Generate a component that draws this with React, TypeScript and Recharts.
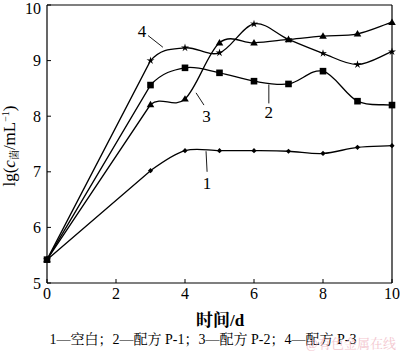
import React from 'react';
import { LineChart, Line, XAxis, YAxis, ReferenceLine, ReferenceDot } from 'recharts';

const days = [0, 3, 4, 5, 6, 7, 8, 9, 10];
const blank = [5.42, 7.02, 7.38, 7.38, 7.38, 7.37, 7.33, 7.44, 7.47];
const p1 = [5.42, 8.56, 8.87, 8.78, 8.63, 8.58, 8.81, 8.27, 8.2];
const p2 = [5.42, 8.21, 8.31, 9.32, 9.32, 9.38, 9.44, 9.48, 9.69];
const p3 = [5.42, 9.0, 9.23, 9.14, 9.66, 9.38, 9.13, 8.93, 9.16];
const xTicks = [0, 2, 4, 6, 8, 10];
const yTicks = [5, 6, 7, 8, 9, 10];
const caption = '1—空白；2—配方 P-1；3—配方 P-2；4—配方 P-3';

const data = days.map((d, i) => ({ d, s1: blank[i], s2: p1[i], s3: p2[i], s4: p3[i] }));

const FONT = '"Liberation Serif", "Noto Serif CJK SC", "Noto Sans CJK SC", serif';

// straight first segment, then a Catmull-Rom style spline through the rest
const splineCurve = (ctx: any) => {
  let pts: number[][] = [];
  return {
    areaStart() {},
    areaEnd() {},
    lineStart() {
      pts = [];
    },
    point(x: number, y: number) {
      pts.push([+x, +y]);
    },
    lineEnd() {
      const n = pts.length;
      if (!n) return;
      ctx.moveTo(pts[0][0], pts[0][1]);
      if (n === 1) return;
      ctx.lineTo(pts[1][0], pts[1][1]);
      if (n === 2) return;
      const tan = (i: number) => {
        if (i === 1) {
          const inc = [(pts[1][0] - pts[0][0]) / 3, (pts[1][1] - pts[0][1]) / 3];
          return [
            (pts[2][0] - pts[1][0] + inc[0]) / 2,
            (pts[2][1] - pts[1][1] + inc[1]) / 2,
          ];
        }
        if (i === n - 1) return [pts[i][0] - pts[i - 1][0], pts[i][1] - pts[i - 1][1]];
        return [(pts[i + 1][0] - pts[i - 1][0]) / 2, (pts[i + 1][1] - pts[i - 1][1]) / 2];
      };
      for (let i = 1; i < n - 1; i++) {
        const a = pts[i];
        const b = pts[i + 1];
        const ma = tan(i);
        const mb = tan(i + 1);
        ctx.bezierCurveTo(a[0] + ma[0] / 3, a[1] + ma[1] / 3, b[0] - mb[0] / 3, b[1] - mb[1] / 3, b[0], b[1]);
      }
    },
  };
};

const Diamond = (props: any) => {
  const { cx, cy } = props;
  if (cx == null || cy == null) return null;
  const r = 2.6;
  return <path d={`M${cx},${cy - r}L${cx + r},${cy}L${cx},${cy + r}L${cx - r},${cy}Z`} fill="#000" />;
};
const Square = (props: any) => {
  const { cx, cy } = props;
  if (cx == null || cy == null) return null;
  return <rect x={cx - 3.3} y={cy - 3.3} width={6.6} height={6.6} fill="#000" />;
};
const Triangle = (props: any) => {
  const { cx, cy } = props;
  if (cx == null || cy == null) return null;
  const r = 3.8;
  return <path d={`M${cx},${cy - r}L${cx + r},${cy + r * 0.7}L${cx - r},${cy + r * 0.7}Z`} fill="#000" />;
};
const Star = (props: any) => {
  const { cx, cy } = props;
  if (cx == null || cy == null) return null;
  const pts: string[] = [];
  for (let k = 0; k < 10; k++) {
    const r = k % 2 === 0 ? 4.2 : 1.5;
    const a = -Math.PI / 2 + (k * Math.PI) / 5;
    pts.push(`${cx + r * Math.cos(a)},${cy + r * Math.sin(a)}`);
  }
  return <polygon points={pts.join(' ')} fill="#000" />;
};

const YTick = (props: any) => {
  const { x, y, payload } = props;
  const dy = payload.value === 10 ? 3 : 0;
  return (
    <text x={x} y={y + dy} dy="0.355em" textAnchor="end" fill="#000" fontSize={16} fontFamily={FONT}>
      {payload.value}
    </text>
  );
};

const annotations = [
  { t: '4', lx: 2.75, ly: 9.54, seg: [{ x: 2.93, y: 9.45 }, { x: 3.36, y: 9.24 }] },
  { t: '3', lx: 4.62, ly: 8.0, seg: [{ x: 4.32, y: 8.42 }, { x: 4.55, y: 8.2 }] },
  { t: '2', lx: 6.43, ly: 8.07, seg: [{ x: 6.43, y: 8.57 }, { x: 6.43, y: 8.23 }] },
  { t: '1', lx: 4.64, ly: 6.8, seg: [{ x: 4.61, y: 7.37 }, { x: 4.64, y: 7.0 }] },
];

export default function App() {
  return (
    <div style={{ position: 'absolute', left: 0, top: 0, width: 400, height: 352, background: '#fff', fontFamily: FONT }}>
      <LineChart width={400} height={352} data={data} margin={{ top: 5, right: 8, bottom: 39, left: 7 }}>
        <XAxis
          dataKey="d"
          type="number"
          domain={[0, 10]}
          ticks={xTicks}
          height={30}
          axisLine={{ stroke: '#000', strokeWidth: 1.2 }}
          tickLine={{ stroke: '#000' }}
          tickSize={-4}
          tickMargin={9}
          tick={{ fill: '#000', fontSize: 16, fontFamily: FONT }}
          interval={0}
        />
        <YAxis
          type="number"
          domain={[5, 10]}
          ticks={yTicks}
          width={40}
          axisLine={{ stroke: '#000', strokeWidth: 1.2 }}
          tickLine={{ stroke: '#000' }}
          tickSize={-4}
          tickMargin={10}
          tick={<YTick />}
          interval={0}
        />
        <ReferenceLine y={10} stroke="#000" strokeWidth={1.2} />
        <ReferenceLine x={10} stroke="#000" strokeWidth={1.2} />
        {annotations.map((a) => (
          <ReferenceLine key={'l' + a.t} segment={a.seg} stroke="#000" strokeWidth={0.9} />
        ))}
        {annotations.map((a) => (
          <ReferenceDot
            key={'d' + a.t}
            x={a.lx}
            y={a.ly}
            r={0.1}
            fill="none"
            stroke="none"
            label={{ value: a.t, position: 'center', fill: '#000', fontSize: 17, fontFamily: FONT }}
          />
        ))}
        <Line dataKey="s1" type={splineCurve as any} stroke="#000" strokeWidth={1.3} dot={<Diamond />} activeDot={false} isAnimationActive={false} />
        <Line dataKey="s2" type={splineCurve as any} stroke="#000" strokeWidth={1.3} dot={<Square />} activeDot={false} isAnimationActive={false} />
        <Line dataKey="s3" type={splineCurve as any} stroke="#000" strokeWidth={1.3} dot={<Triangle />} activeDot={false} isAnimationActive={false} />
        <Line dataKey="s4" type={splineCurve as any} stroke="#000" strokeWidth={1.3} dot={<Star />} activeDot={false} isAnimationActive={false} />
      </LineChart>
      <svg width={400} height={352} style={{ position: 'absolute', left: 0, top: 0, pointerEvents: 'none' }}>
        <text
          transform="translate(15,146) rotate(-90)"
          textAnchor="middle"
          fontSize={17}
          fontFamily={FONT}
          fill="#000"
        >
          <tspan>lg(</tspan>
          <tspan fontStyle="italic">c</tspan>
          <tspan fontSize={10} dy={3}>菌</tspan>
          <tspan dy={-3}>/mL</tspan>
          <tspan fontSize={10} dy={-6}>−1</tspan>
          <tspan dy={6}>)</tspan>
        </text>
        <text x={220} y={326} textAnchor="middle" fontSize={17} fontWeight="bold" fontFamily={FONT} fill="#000">
          时间/d
        </text>
        <text x={203} y={344} textAnchor="middle" fontSize={14} fontFamily={FONT} fill="#000">
          {caption}
        </text>
        <text x={351} y={348} textAnchor="middle" fontSize={13} fontFamily={FONT} fill="#f0b4c0" opacity={0.75}>
          @有色金属在线
        </text>
      </svg>
    </div>
  );
}
